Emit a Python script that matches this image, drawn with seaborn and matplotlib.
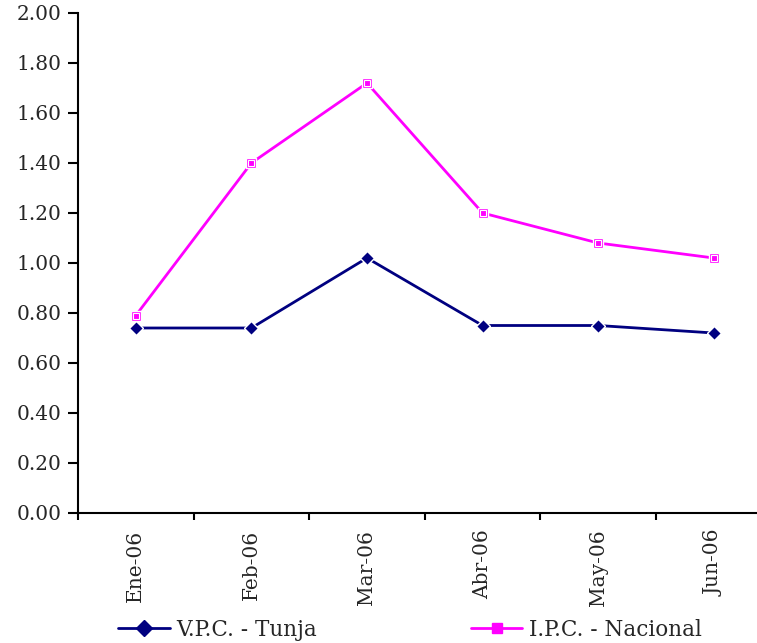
import matplotlib
matplotlib.use("Agg")
import matplotlib.pyplot as plt
import seaborn as sns
import pandas as pd
import numpy as np
from matplotlib.lines import Line2D

months = ["Ene-06", "Feb-06", "Mar-06", "Abr-06", "May-06", "Jun-06"]
vpc_tunja = [0.74, 0.74, 1.02, 0.75, 0.75, 0.72]
ipc_nacional = [0.79, 1.40, 1.72, 1.20, 1.08, 1.02]
series_names = ["V.P.C. - Tunja", "I.P.C. - Nacional"]
yticks = [0.0, 0.2, 0.4, 0.6, 0.8, 1.0, 1.2, 1.4, 1.6, 1.8, 2.0]

sns.set_style("white")
plt.rcParams["font.family"] = ["DejaVu Serif"]

df = pd.DataFrame({
    "idx": list(range(len(months))) * 2,
    "valor": vpc_tunja + ipc_nacional,
    "serie": [series_names[0]] * len(months) + [series_names[1]] * len(months),
})

fig = plt.figure(figsize=(7.57, 6.43), dpi=100)
ax = fig.add_axes([78 / 757, 1 - 513 / 643, 693.6 / 757, 500 / 643])

palette = {series_names[0]: "#000080", series_names[1]: "#FF00FF"}
sns.lineplot(data=df, x="idx", y="valor", hue="serie", palette=palette,
             style="serie", markers={series_names[0]: "D", series_names[1]: "s"},
             dashes=False, markersize=7.5, linewidth=2, ax=ax, legend=False,
             markeredgewidth=1)

# white inner detail of the square markers
ax.plot(np.arange(len(months)), ipc_nacional, linestyle="none", marker="s",
        markersize=4, markerfacecolor="none", markeredgecolor="white",
        markeredgewidth=0.8, zorder=5)

ax.set_xlim(-0.5, 5.5)
ax.set_ylim(0, 2.0)
ax.set_yticks(yticks)
ax.set_yticklabels([f"{v:.2f}" for v in yticks], fontsize=14.5)
ax.set_xticks(np.arange(-0.5, 6.0, 1.0))
ax.set_xticklabels([])
ax.set_xticks(np.arange(len(months)), minor=True)
ax.set_xticklabels(months, minor=True, rotation=90, fontsize=14.5)
ax.tick_params(axis="x", which="minor", bottom=True, length=0, pad=12)
ax.tick_params(axis="x", which="major", bottom=True, length=5, width=1.5,
               direction="out", color="black")
ax.tick_params(axis="y", left=True, length=7, width=1.5, direction="out",
               color="black", pad=5)
ax.set_xlabel("")
ax.set_ylabel("")
for s in ["top", "right"]:
    ax.spines[s].set_visible(False)
for s in ["left", "bottom"]:
    ax.spines[s].set_color("black")
    ax.spines[s].set_linewidth(1.5)

handles = [
    Line2D([0], [0], color="#000080", marker="D", markersize=8, linewidth=2),
    Line2D([0], [0], color="#FF00FF", marker="s", markersize=7.5, linewidth=2),
]
fig.legend(handles, series_names, loc="center left",
           bbox_to_anchor=(118 / 757, 1 - 630 / 643),
           ncol=2, frameon=False, fontsize=15.5, columnspacing=7.15,
           handlelength=2.4, handletextpad=0.3, borderaxespad=0, borderpad=0)

fig.savefig("out.png", dpi=100)
